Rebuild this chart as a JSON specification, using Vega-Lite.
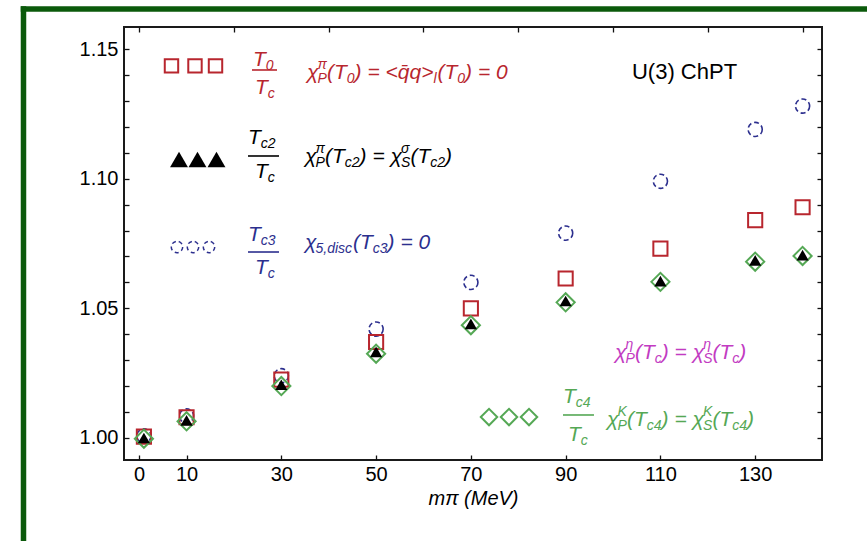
{
 "$schema": "https://vega.github.io/schema/vega-lite/v6.json",
 "width": 698, "height": 433,
 "autosize": {"type": "none"},
 "padding": {"left": 124, "top": 27, "right": 45, "bottom": 81},
 "background": "white",
 "datasets": {
  "frame": [
   {"x": -24.41, "y": 1.16544, "x2": 400, "y2": 1.16544},
   {"x": -24.41, "y": 1.16544, "x2": -24.41, "y2": 0.8}
  ],
  "pts": [
   {"x":1,"y":1.0005,"series":"T0"},{"x":10,"y":1.008,"series":"T0"},{"x":30,"y":1.0225,"series":"T0"},{"x":50,"y":1.037,"series":"T0"},{"x":70,"y":1.050,"series":"T0"},{"x":90,"y":1.0615,"series":"T0"},{"x":110,"y":1.073,"series":"T0"},{"x":130,"y":1.084,"series":"T0"},{"x":140,"y":1.089,"series":"T0"},
   {"x":1,"y":1.0,"series":"Tc2"},{"x":10,"y":1.0068,"series":"Tc2"},{"x":30,"y":1.0205,"series":"Tc2"},{"x":50,"y":1.0332,"series":"Tc2"},{"x":70,"y":1.044,"series":"Tc2"},{"x":90,"y":1.0528,"series":"Tc2"},{"x":110,"y":1.0605,"series":"Tc2"},{"x":130,"y":1.0685,"series":"Tc2"},{"x":140,"y":1.0705,"series":"Tc2"},
   {"x":1,"y":1.0008,"series":"Tc3"},{"x":10,"y":1.0085,"series":"Tc3"},{"x":30,"y":1.024,"series":"Tc3"},{"x":50,"y":1.042,"series":"Tc3"},{"x":70,"y":1.060,"series":"Tc3"},{"x":90,"y":1.079,"series":"Tc3"},{"x":110,"y":1.099,"series":"Tc3"},{"x":130,"y":1.119,"series":"Tc3"},{"x":140,"y":1.128,"series":"Tc3"},
   {"x":1,"y":0.9997,"series":"Tc4"},{"x":10,"y":1.0064,"series":"Tc4"},{"x":30,"y":1.020,"series":"Tc4"},{"x":50,"y":1.0325,"series":"Tc4"},{"x":70,"y":1.0435,"series":"Tc4"},{"x":90,"y":1.0523,"series":"Tc4"},{"x":110,"y":1.0602,"series":"Tc4"},{"x":130,"y":1.068,"series":"Tc4"},{"x":140,"y":1.0702,"series":"Tc4"}
  ],
  "legpts": [
   {"x":6.82,"y":1.1435,"series":"T0"},{"x":11.78,"y":1.1435,"series":"T0"},{"x":16.11,"y":1.1435,"series":"T0"},
   {"x":8.41,"y":1.1074,"series":"Tc2"},{"x":12.31,"y":1.1074,"series":"Tc2"},{"x":16.32,"y":1.1074,"series":"Tc2"},
   {"x":7.98,"y":1.07365,"series":"Tc3"},{"x":11.36,"y":1.07365,"series":"Tc3"},{"x":14.74,"y":1.07365,"series":"Tc3"},
   {"x":73.83,"y":1.00808,"series":"Tc4"},{"x":78.05,"y":1.00808,"series":"Tc4"},{"x":82.27,"y":1.00808,"series":"Tc4"}
  ],
  "bars": [
   {"x":23.81,"x2":29.09,"y":1.14192,"series":"T0"},
   {"x":22.97,"x2":29.51,"y":1.10875,"series":"Tc2"},
   {"x":22.97,"x2":29.51,"y":1.07172,"series":"Tc3"},
   {"x":89.44,"x2":95.98,"y":1.00886,"series":"Tc4"}
  ],
  "txt": [
   {"x":24.02,"y":1.14558,"text":"T","series":"T0","role":"main"},
   {"x":26.72,"y":1.14558,"text":"0","series":"T0","role":"sub"},
   {"x":24.44,"y":1.13497,"text":"T","series":"T0","role":"main"},
   {"x":27.15,"y":1.13497,"text":"c","series":"T0","role":"sub"},
   {"x":35.42,"y":1.14076,"text":"χ","series":"T0","role":"main"},
   {"x":37.63,"y":1.14076,"text":"π","series":"T0","role":"sup"},
   {"x":37.63,"y":1.14076,"text":"P","series":"T0","role":"sub"},
   {"x":39.64,"y":1.14076,"text":"(T","series":"T0","role":"main"},
   {"x":43.82,"y":1.14076,"text":"0","series":"T0","role":"sub"},
   {"x":45.46,"y":1.14076,"text":") = <q̄q>","series":"T0","role":"main"},
   {"x":62.11,"y":1.14076,"text":"l","series":"T0","role":"sub"},
   {"x":62.96,"y":1.14076,"text":"(T","series":"T0","role":"main"},
   {"x":67.14,"y":1.14076,"text":"0","series":"T0","role":"sub"},
   {"x":68.78,"y":1.14076,"text":") = 0","series":"T0","role":"main"},

   {"x":22.97,"y":1.11588,"text":"T","series":"Tc2","role":"main"},
   {"x":25.67,"y":1.11588,"text":"c2","series":"Tc2","role":"sub"},
   {"x":24.44,"y":1.10239,"text":"T","series":"Tc2","role":"main"},
   {"x":27.15,"y":1.10239,"text":"c","series":"Tc2","role":"sub"},
   {"x":35.00,"y":1.10836,"text":"χ","series":"Tc2","role":"main"},
   {"x":37.21,"y":1.10836,"text":"π","series":"Tc2","role":"sup"},
   {"x":37.21,"y":1.10836,"text":"P","series":"Tc2","role":"sub"},
   {"x":39.22,"y":1.10836,"text":"(T","series":"Tc2","role":"main"},
   {"x":43.40,"y":1.10836,"text":"c2","series":"Tc2","role":"sub"},
   {"x":46.52,"y":1.10836,"text":") = χ","series":"Tc2","role":"main"},
   {"x":55.26,"y":1.10836,"text":"σ","series":"Tc2","role":"sup"},
   {"x":55.26,"y":1.10836,"text":"S","series":"Tc2","role":"sub"},
   {"x":57.26,"y":1.10836,"text":"(T","series":"Tc2","role":"main"},
   {"x":61.44,"y":1.10836,"text":"c2","series":"Tc2","role":"sub"},
   {"x":64.56,"y":1.10836,"text":")","series":"Tc2","role":"main"},

   {"x":22.97,"y":1.07828,"text":"T","series":"Tc3","role":"main"},
   {"x":25.67,"y":1.07828,"text":"c3","series":"Tc3","role":"sub"},
   {"x":24.44,"y":1.06555,"text":"T","series":"Tc3","role":"main"},
   {"x":27.15,"y":1.06555,"text":"c","series":"Tc3","role":"sub"},
   {"x":35.00,"y":1.07519,"text":"χ","series":"Tc3","role":"main"},
   {"x":37.21,"y":1.07519,"text":"5,disc","series":"Tc3","role":"sub"},
   {"x":45.13,"y":1.07519,"text":"(T","series":"Tc3","role":"main"},
   {"x":49.30,"y":1.07519,"text":"c3","series":"Tc3","role":"sub"},
   {"x":52.43,"y":1.07519,"text":") = 0","series":"Tc3","role":"main"},

   {"x":100.42,"y":1.03277,"text":"χ","series":"eta","role":"main"},
   {"x":102.63,"y":1.03277,"text":"η","series":"eta","role":"sup"},
   {"x":102.63,"y":1.03277,"text":"P","series":"eta","role":"sub"},
   {"x":104.64,"y":1.03277,"text":"(T","series":"eta","role":"main"},
   {"x":108.81,"y":1.03277,"text":"c","series":"eta","role":"sub"},
   {"x":110.29,"y":1.03277,"text":") = χ","series":"eta","role":"main"},
   {"x":119.03,"y":1.03277,"text":"η","series":"eta","role":"sup"},
   {"x":119.03,"y":1.03277,"text":"S","series":"eta","role":"sub"},
   {"x":120.99,"y":1.03277,"text":"(T","series":"eta","role":"main"},
   {"x":125.17,"y":1.03277,"text":"c","series":"eta","role":"sub"},
   {"x":126.65,"y":1.03277,"text":")","series":"eta","role":"main"},

   {"x":89.44,"y":1.01561,"text":"T","series":"Tc4","role":"main"},
   {"x":92.14,"y":1.01561,"text":"c4","series":"Tc4","role":"sub"},
   {"x":90.50,"y":1.00114,"text":"T","series":"Tc4","role":"main"},
   {"x":93.20,"y":1.00114,"text":"c","series":"Tc4","role":"sub"},
   {"x":98.73,"y":1.00693,"text":"χ","series":"Tc4","role":"main"},
   {"x":100.94,"y":1.00693,"text":"K","series":"Tc4","role":"sup"},
   {"x":100.94,"y":1.00693,"text":"P","series":"Tc4","role":"sub"},
   {"x":102.95,"y":1.00693,"text":"(T","series":"Tc4","role":"main"},
   {"x":107.13,"y":1.00693,"text":"c4","series":"Tc4","role":"sub"},
   {"x":110.25,"y":1.00693,"text":") = χ","series":"Tc4","role":"main"},
   {"x":118.99,"y":1.00693,"text":"K","series":"Tc4","role":"sup"},
   {"x":118.99,"y":1.00693,"text":"S","series":"Tc4","role":"sub"},
   {"x":120.99,"y":1.00693,"text":"(T","series":"Tc4","role":"main"},
   {"x":125.17,"y":1.00693,"text":"c4","series":"Tc4","role":"sub"},
   {"x":128.29,"y":1.00693,"text":")","series":"Tc4","role":"main"},

   {"x":104.0,"y":1.14115,"text":"U(3) ChPT","series":"note","role":"plain"}
  ]
 },
 "encoding": {
  "x": {"field": "x", "type": "quantitative", "scale": {"domain": [-3.2, 144.1], "nice": false, "zero": false}, "axis": null},
  "y": {"field": "y", "type": "quantitative", "scale": {"domain": [0.9915, 1.1585], "nice": false, "zero": false}, "axis": null},
  "color": {"field": "series", "type": "nominal", "legend": null,
   "scale": {"domain": ["T0","Tc2","Tc3","Tc4","eta","note"], "range": ["#b8262e","#000000","#2c2f8e","#55a855","#c23bc2","#000000"]}}
 },
 "layer": [
  {
   "data": {"name": "frame"},
   "mark": {"type": "rule", "stroke": "#0b5a0b", "strokeWidth": 5.5, "strokeCap": "square"},
   "encoding": {
    "x2": {"field": "x2"},
    "y2": {"field": "y2"},
    "color": {"value": "#0b5a0b"}
   }
  },
  {
   "data": {"name": "pts"},
   "transform": [{"filter": "datum.series == 'Tc3'"}],
   "mark": {"type": "point", "shape": "circle", "filled": false, "size": 200, "strokeWidth": 1.6, "strokeDash": [5, 3], "opacity": 1},
   "encoding": {
    "x": {"field": "x", "type": "quantitative", "scale": {"domain": [-3.2, 144.1], "nice": false, "zero": false},
     "axis": {"orient": "bottom", "values": [0,10,30,50,70,90,110,130], "tickSize": -5, "labelPadding": 9, "labelFlush": false, "labelOverlap": false,
      "title": "mπ (MeV)", "titleFontSize": 20, "titleFontStyle": "italic", "titleFontWeight": "normal", "titlePadding": 4}},
    "y": {"field": "y", "type": "quantitative", "scale": {"domain": [0.9915, 1.1585], "nice": false, "zero": false},
     "axis": {"orient": "left", "values": [1.0,1.01,1.02,1.03,1.04,1.05,1.06,1.07,1.08,1.09,1.1,1.11,1.12,1.13,1.14,1.15], "tickSize": -5, "labelPadding": 11, "labelFlush": false, "labelOverlap": false,
      "labelExpr": "round(datum.value*100) % 5 == 0 ? format(datum.value, '.2f') : ''", "title": null}}
   }
  },
  {
   "data": {"name": "pts"},
   "transform": [{"filter": "datum.series == 'T0'"}],
   "mark": {"type": "point", "shape": "square", "filled": false, "size": 200, "strokeWidth": 2, "opacity": 1},
   "encoding": {
    "x": {"field": "x", "type": "quantitative", "scale": {"domain": [-3.2, 144.1], "nice": false, "zero": false},
     "axis": {"orient": "top", "values": [0,20,40,60,80,100,120,140], "tickSize": -5, "labels": false, "title": null}},
    "y": {"field": "y", "type": "quantitative", "scale": {"domain": [0.9915, 1.1585], "nice": false, "zero": false},
     "axis": {"orient": "right", "values": [1.0,1.01,1.02,1.03,1.04,1.05,1.06,1.07,1.08,1.09,1.1,1.11,1.12,1.13,1.14,1.15], "tickSize": -5, "labels": false, "title": null}}
   }
  },
  {
   "data": {"name": "pts"},
   "transform": [{"filter": "datum.series == 'Tc4'"}],
   "mark": {"type": "point", "shape": "diamond", "filled": false, "size": 330, "strokeWidth": 2, "opacity": 1}
  },
  {
   "data": {"name": "pts"},
   "transform": [{"filter": "datum.series == 'Tc2'"}],
   "mark": {"type": "point", "shape": "triangle-up", "filled": true, "size": 150, "opacity": 1}
  },
  {
   "data": {"name": "legpts"},
   "transform": [{"filter": "datum.series == 'T0'"}],
   "mark": {"type": "point", "shape": "square", "filled": false, "size": 180, "strokeWidth": 2, "opacity": 1}
  },
  {
   "data": {"name": "legpts"},
   "transform": [{"filter": "datum.series == 'Tc2'"}],
   "mark": {"type": "point", "shape": "triangle-up", "filled": true, "size": 320, "opacity": 1}
  },
  {
   "data": {"name": "legpts"},
   "transform": [{"filter": "datum.series == 'Tc3'"}],
   "mark": {"type": "point", "shape": "circle", "filled": false, "size": 130, "strokeWidth": 1.5, "strokeDash": [4, 3], "opacity": 1}
  },
  {
   "data": {"name": "legpts"},
   "transform": [{"filter": "datum.series == 'Tc4'"}],
   "mark": {"type": "point", "shape": "diamond", "filled": false, "size": 270, "strokeWidth": 2, "opacity": 1}
  },
  {
   "data": {"name": "bars"},
   "mark": {"type": "rule", "strokeWidth": 1.6},
   "encoding": {"x2": {"field": "x2"}}
  },
  {
   "data": {"name": "txt"},
   "transform": [{"filter": "datum.role == 'main'"}],
   "mark": {"type": "text", "align": "left", "baseline": "middle", "fontSize": 21, "fontStyle": "italic", "font": "Liberation Sans"},
   "encoding": {"text": {"field": "text"}}
  },
  {
   "data": {"name": "txt"},
   "transform": [{"filter": "datum.role == 'sub'"}],
   "mark": {"type": "text", "align": "left", "baseline": "middle", "fontSize": 14, "fontStyle": "italic", "font": "Liberation Sans", "dy": 6},
   "encoding": {"text": {"field": "text"}}
  },
  {
   "data": {"name": "txt"},
   "transform": [{"filter": "datum.role == 'sup'"}],
   "mark": {"type": "text", "align": "left", "baseline": "middle", "fontSize": 14, "fontStyle": "italic", "font": "Liberation Sans", "dy": -8},
   "encoding": {"text": {"field": "text"}}
  },
  {
   "data": {"name": "txt"},
   "transform": [{"filter": "datum.role == 'plain'"}],
   "mark": {"type": "text", "align": "left", "baseline": "middle", "fontSize": 22, "font": "Liberation Sans"},
   "encoding": {"text": {"field": "text"}}
  }
 ],
 "config": {
  "font": "Liberation Sans",
  "view": {"stroke": "#1a1a1a", "strokeWidth": 2},
  "axis": {"domain": false, "grid": false, "tickColor": "#111111", "tickWidth": 1.3, "labelFont": "Liberation Sans", "labelFontSize": 20, "labelColor": "#000000", "titleFont": "Liberation Sans", "titleColor": "#000000"}
 }
}
